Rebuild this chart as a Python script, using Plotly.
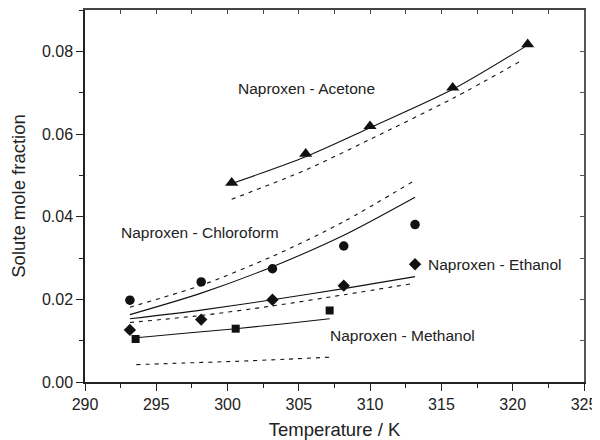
import plotly.graph_objects as go

# ---- data ----
T_chl = [293.15, 298.15, 303.15, 308.15, 313.15]
x_chl = [0.0198, 0.0242, 0.0274, 0.0329, 0.0381]
x_eth = [0.0126, 0.0151, 0.0199, 0.0233, 0.0285]
T_met = [293.55, 300.57, 307.16]
x_met = [0.0104, 0.0129, 0.0173]
T_ace = [300.29, 305.48, 309.99, 315.79, 321.05]
x_ace = [0.0482, 0.0552, 0.0619, 0.0712, 0.0817]

# model curves (solid / dashed)
calc_chl_solid = [0.0163, 0.0215, 0.0279, 0.0355, 0.0447]
T_chl_dash = [293.15, 298.15, 303.15, 308.15, 312.95]
calc_chl_dash = [0.0181, 0.0234, 0.0304, 0.0388, 0.0484]
calc_eth_solid = [0.0153, 0.0174, 0.0199, 0.0226, 0.0255]
T_eth_dash = [293.15, 298.15, 303.15, 308.15, 312.95]
calc_eth_dash = [0.0144, 0.0161, 0.0184, 0.0211, 0.0238]
T_met_line = [293.6, 297.0, 300.57, 304.0, 307.16]
calc_met_solid = [0.0107, 0.0118, 0.0129, 0.0141, 0.0153]
calc_met_dash = [0.0042, 0.0046, 0.0050, 0.0055, 0.0060]
calc_ace_solid = [0.0480, 0.0545, 0.0615, 0.0708, 0.0815]
T_ace_dash = [300.29, 305.48, 309.99, 315.79, 320.7]
calc_ace_dash = [0.0442, 0.0513, 0.0587, 0.0686, 0.0779]

labels = ["Naproxen - Acetone", "Naproxen - Chloroform", "Naproxen - Ethanol", "Naproxen - Methanol"]
label_T = [305.55, 298.08, 313.92, 312.27]
label_x = [0.0711, 0.03625, 0.02835, 0.0112]
label_anchor = ["center", "center", "left", "center"]

x_ticks = [290, 295, 300, 305, 310, 315, 320, 325]
y_ticks = [0.00, 0.02, 0.04, 0.06, 0.08]

FONT = "Liberation Sans, Arial, sans-serif"
INK = "#111111"

fig = go.Figure()

def line(xs, ys, dash):
    fig.add_trace(go.Scatter(x=xs, y=ys, mode="lines",
                             line=dict(color=INK, width=1.1, dash=dash, shape="spline", smoothing=0.8),
                             showlegend=False, hoverinfo="skip"))

line(T_chl, calc_chl_solid, "solid")
line(T_chl_dash, calc_chl_dash, "4px,5px")
line(T_chl, calc_eth_solid, "solid")
line(T_eth_dash, calc_eth_dash, "4px,5px")
line(T_met_line, calc_met_solid, "solid")
line(T_met_line, calc_met_dash, "4px,5px")
line(T_ace, calc_ace_solid, "solid")
line(T_ace_dash, calc_ace_dash, "4px,5px")

def pts(xs, ys, sym, size):
    fig.add_trace(go.Scatter(x=xs, y=ys, mode="markers",
                             marker=dict(symbol=sym, size=size, color=INK, line=dict(width=0)),
                             showlegend=False))

pts(T_chl, x_chl, "circle", 9.5)
pts(T_chl, x_eth, "diamond", 9.5)
pts(T_met, x_met, "square", 8)
pts(T_ace, x_ace, "triangle-up", 11.5)

# empty trace to activate mirror axes
fig.add_trace(go.Scatter(x=[], y=[], xaxis="x2", yaxis="y2", showlegend=False))

for t, tx, ty, anc in zip(labels, label_T, label_x, label_anchor):
    fig.add_annotation(x=tx, y=ty, text=t, showarrow=False, xanchor=anc, yanchor="middle",
                       font=dict(family=FONT, size=15.5, color="#222"))

axis_common = dict(showgrid=False, zeroline=False, showline=True, linecolor="#222", linewidth=1.5,
                   automargin=False)

# the page body adds an 8px offset, so the figure is sized 592x432
fig.update_layout(
    width=592, height=432,
    margin=dict(l=77, r=16, t=2, b=58),
    paper_bgcolor="white", plot_bgcolor="white",
    font=dict(family=FONT, color="#222"),
    xaxis=dict(range=[290, 325], tickvals=x_ticks, ticks="outside", ticklen=7, tickwidth=1.2,
               tickcolor="#222", tickfont=dict(size=16),
               minor=dict(dtick=2.5, tick0=290, ticks="outside", ticklen=4, tickwidth=1.2, tickcolor="#222"),
               title=dict(text="Temperature / K", font=dict(size=18.5), standoff=12), **axis_common),
    yaxis=dict(range=[0, 0.09], tickvals=y_ticks, tickformat=".2f", ticks="outside", ticklen=7,
               tickwidth=1.2, tickcolor="#222", tickfont=dict(size=16),
               minor=dict(dtick=0.01, tick0=0, ticks="outside", ticklen=4, tickwidth=1.2, tickcolor="#222"),
               title=dict(text="Solute mole fraction", font=dict(size=18.5), standoff=12), **axis_common),
    xaxis2=dict(range=[290, 325], overlaying="x", side="top", anchor="y2", tick0=290, dtick=2.5,
                ticks="inside", ticklen=4, tickwidth=1.2, tickcolor="#444", showticklabels=False,
                linecolor="#444", showline=True, linewidth=1.5, showgrid=False, zeroline=False,
                automargin=False),
    yaxis2=dict(range=[0, 0.09], overlaying="y", side="right", anchor="x2", tick0=0, dtick=0.01,
                ticks="inside", ticklen=4, tickwidth=1.2, tickcolor="#555", showticklabels=False,
                linecolor="#555", showline=True, linewidth=1.5, showgrid=False, zeroline=False,
                automargin=False),
)

fig.write_html("out.html")
